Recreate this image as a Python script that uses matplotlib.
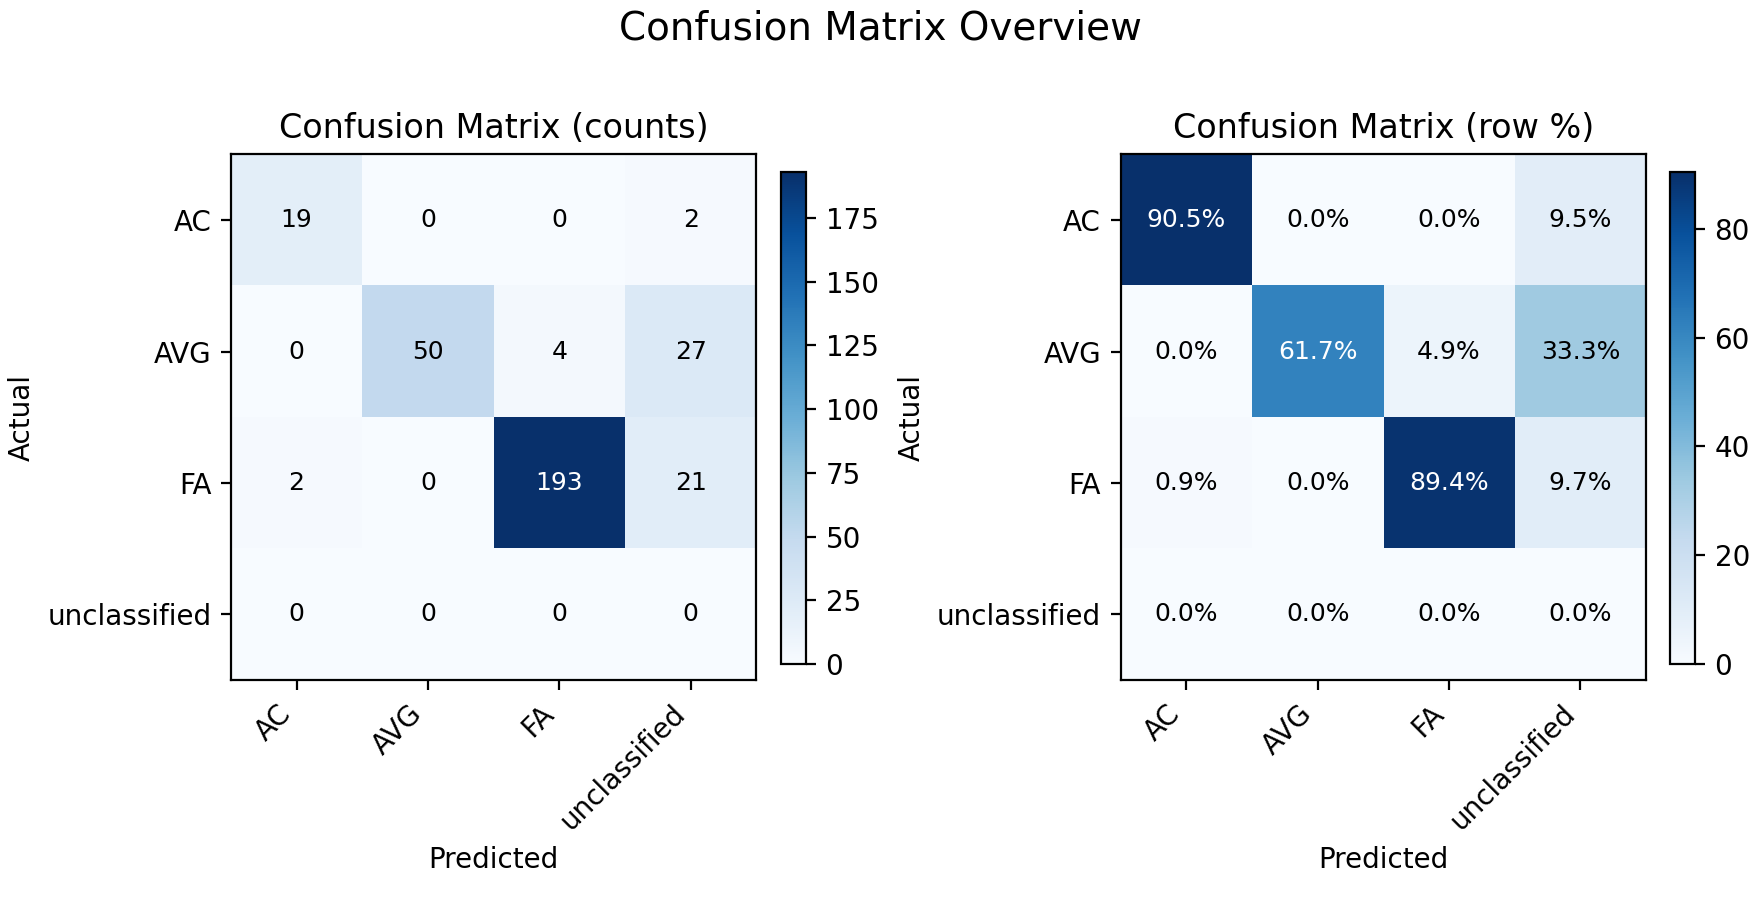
import matplotlib.pyplot as plt
import numpy as np

labels = ["AC", "AVG", "FA", "unclassified"]
counts = [
    [19, 0, 0, 2],
    [0, 50, 4, 27],
    [2, 0, 193, 21],
    [0, 0, 0, 0],
]

cm = np.array(counts, dtype=float)
row_sums = cm.sum(axis=1, keepdims=True)
row_pct = np.divide(cm, row_sums, out=np.zeros_like(cm), where=row_sums > 0) * 100

fig = plt.figure(figsize=(8.8, 4.5), dpi=200)

# axes placement (figure fractions) to match the reference layout
ax_boxes = [[0.1300, 0.2444, 0.301, 0.584], [0.636, 0.2444, 0.300, 0.584]]
cb_boxes = [[0.4438, 0.2622, 0.0142, 0.5467], [0.9489, 0.2622, 0.0142, 0.5467]]

panels = [
    (cm, "Confusion Matrix (counts)", lambda v: f"{int(v)}"),
    (row_pct, "Confusion Matrix (row %)", lambda v: f"{v:.1f}%"),
]

for box, cbox, (data, title, fmt) in zip(ax_boxes, cb_boxes, panels):
    ax = fig.add_axes(box)
    cax = fig.add_axes(cbox)
    im = ax.imshow(data, cmap="Blues")
    fig.colorbar(im, cax=cax)
    ax.set_xticks(range(len(labels)))
    ax.set_yticks(range(len(labels)))
    ax.set_xticklabels(labels, rotation=45, ha="right")
    ax.set_yticklabels(labels)
    ax.set_xlabel("Predicted")
    ax.set_ylabel("Actual")
    ax.set_title(title)
    thresh = data.max() / 2
    for i in range(data.shape[0]):
        for j in range(data.shape[1]):
            ax.text(j, i, fmt(data[i, j]), ha="center", va="center",
                    fontsize=9, color="white" if data[i, j] > thresh else "black")

fig.suptitle("Confusion Matrix Overview", fontsize=14, y=0.99, va="top")
fig.savefig("out.png")
